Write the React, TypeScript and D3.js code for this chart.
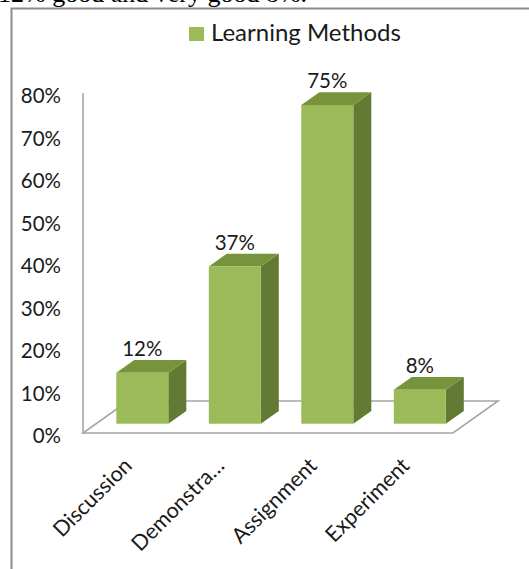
import React from 'react';
import * as d3 from 'd3';

const categories = ['Discussion', 'Demonstra…', 'Assignment', 'Experiment'];
const values = [0.12, 0.37, 0.75, 0.08];
const valueLabels = ['12%', '37%', '75%', '8%'];
const yTicks = [0, 0.1, 0.2, 0.3, 0.4, 0.5, 0.6, 0.7, 0.8];
const seriesName = 'Learning Methods';
const captionText = '12% good and very good 8%.';

const FONT = 'Lato, "Open Sans", sans-serif';
const FRONT = '#9BBB59';
const TOP = '#77933C';
const SIDE = '#637A35';
const GRID = '#A6A6A6';

export default function App() {
  const W = 529;
  const H = 569;
  const x = d3.scaleBand<string>().domain(categories).range([83, 453]);
  const y = d3.scaleLinear().domain([0, 0.8]).range([433, 93]);
  const depth: [number, number] = [45, -32];
  const f0 = 0.29;
  const f1 = 0.69;
  const bw = 52;
  const fx = depth[0] * f0;
  const fy = depth[1] * f0;
  const ddx = depth[0] * (f1 - f0);
  const ddy = depth[1] * (f1 - f0);
  const fmt = d3.format('.0%');
  const y0 = y(0);
  const xl = x.range()[0];
  const xr = x.range()[1];

  const floor = [
    [xl, y0],
    [xr, y0],
    [xr + depth[0], y0 + depth[1]],
    [xl + depth[0], y0 + depth[1]],
  ];

  return (
    <svg
      width={W}
      height={H}
      style={{ position: 'absolute', left: 0, top: 0, background: '#fff' }}
      xmlns="http://www.w3.org/2000/svg"
    >
      <rect x={0} y={0} width={W} height={H} fill="#fff" />
      <text
        x={-2}
        y={2}
        fontFamily='"Liberation Serif", "Times New Roman", serif'
        fontSize={26}
        fill="#000"
      >
        {captionText}
      </text>
      {/* outer border */}
      <path d={`M11.5,${H} L11.5,8.5 L${W},8.5`} fill="none" stroke="#8C8C8C" strokeWidth={2} />

      {/* legend */}
      <rect x={189} y={27} width={15} height={14} fill={FRONT} />
      <text x={211} y={41} fontFamily={FONT} fontSize={24} fill="#1a1a1a">
        {seriesName}
      </text>

      {/* floor */}
      <polygon
        points={floor.map((p) => p.join(',')).join(' ')}
        fill="none"
        stroke={GRID}
        strokeWidth={1.6}
      />
      {/* vertical axis */}
      <line x1={xl} x2={xl} y1={y(0.8)} y2={y0} stroke={GRID} strokeWidth={1.6} />

      {/* y tick labels */}
      {yTicks.map((t) => (
        <text
          key={t}
          x={61}
          y={y(t) + 2}
          textAnchor="end"
          dominantBaseline="central"
          fontFamily={FONT}
          fontSize={20.5}
          fill="#1a1a1a"
        >
          {fmt(t)}
        </text>
      ))}

      {/* bars */}
      {categories.map((c, i) => {
        const cx = (x(c) as number) + x.bandwidth() / 2;
        const x0 = cx - bw / 2 + fx;
        const x1 = x0 + bw;
        const yb = y0 + fy;
        const yt = y(values[i]) + fy;
        const top = [
          [x0, yt],
          [x1, yt],
          [x1 + ddx, yt + ddy],
          [x0 + ddx, yt + ddy],
        ];
        const side = [
          [x1, yt],
          [x1 + ddx, yt + ddy],
          [x1 + ddx, yb + ddy],
          [x1, yb],
        ];
        return (
          <g key={c}>
            <polygon points={side.map((p) => p.join(',')).join(' ')} fill={SIDE} />
            <polygon points={top.map((p) => p.join(',')).join(' ')} fill={TOP} />
            <rect x={x0} y={yt} width={bw} height={yb - yt} fill={FRONT} />
            <text
              x={cx + fx}
              y={yt - 16.5}
              textAnchor="middle"
              fontFamily={FONT}
              fontSize={20.5}
              fill="#1a1a1a"
            >
              {valueLabels[i]}
            </text>
          </g>
        );
      })}

      {/* x labels */}
      {categories.map((c) => {
        const cx = (x(c) as number) + x.bandwidth() / 2;
        return (
          <text
            key={c}
            transform={`translate(${cx + 4},${467}) rotate(-45)`}
            textAnchor="end"
            fontFamily={FONT}
            fontSize={21.5}
            fill="#1a1a1a"
          >
            {c}
          </text>
        );
      })}
    </svg>
  );
}
